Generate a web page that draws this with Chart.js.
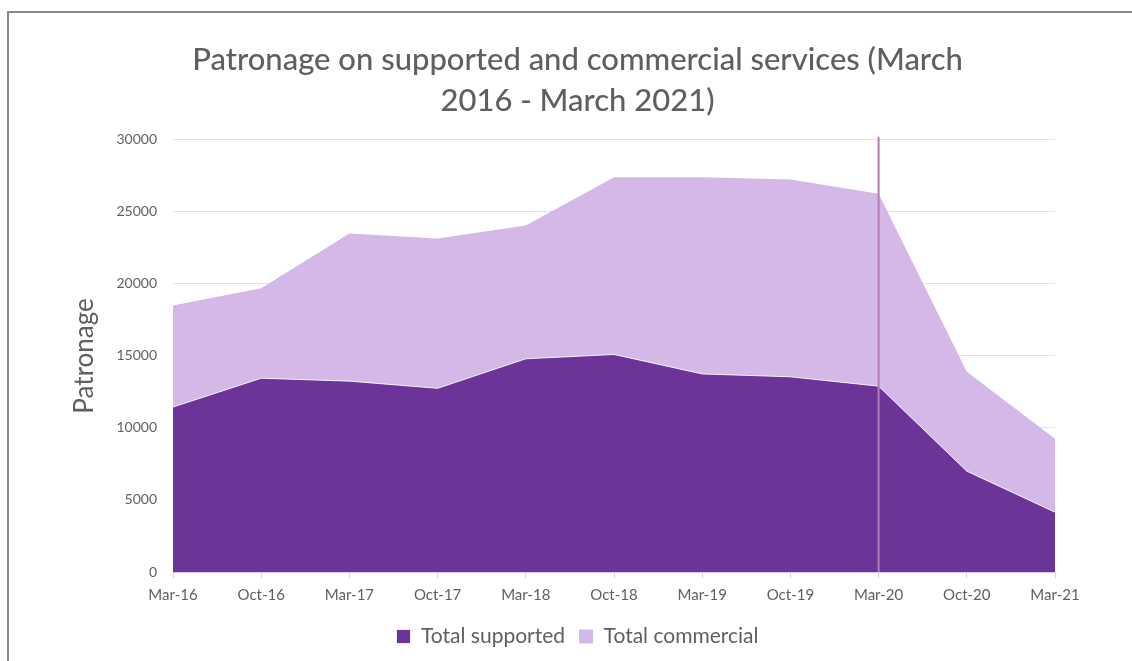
<!DOCTYPE html>
<html>
<head>
<meta charset="utf-8">
<script src="https://cdn.jsdelivr.net/npm/chart.js@4/dist/chart.umd.min.js"></script>
<style>
  html, body { margin: 0; padding: 0; background: #fff; }
  #wrap { position: relative; width: 1132px; height: 661px; overflow: hidden; }
  #frame { position: absolute; left: 7px; top: 11px; width: 1140px; height: 700px;
           border-left: 2px solid #8a8a8a; border-top: 2px solid #8a8a8a; box-sizing: border-box; }
  canvas { position: absolute; left: 0; top: 0; }
</style>
</head>
<body>
<div id="wrap">
  <div id="frame"></div>
  <canvas id="c" width="1132" height="661"></canvas>
</div>
<script>
const categories = ['Mar-16', 'Oct-16', 'Mar-17', 'Oct-17', 'Mar-18', 'Oct-18', 'Mar-19', 'Oct-19', 'Mar-20', 'Oct-20', 'Mar-21'];
const totalSupported = [11450, 13450, 13250, 12750, 14800, 15100, 13750, 13550, 12900, 7000, 4150];
const totalCommercial = [7050, 6250, 10250, 10400, 9250, 12300, 13650, 13700, 13350, 6900, 5100];
const yTicks = [0, 5000, 10000, 15000, 20000, 25000, 30000];
const markerCategory = 'Mar-20';

const FONT = 'Lato, "Open Sans", sans-serif';
const TEXT = '#5f5f5f';

// Vertical marker line at the given category, positioned via the x scale
const markerLine = {
  id: 'markerLine',
  afterDatasetsDraw(chart) {
    const x = chart.scales.x.getPixelForValue(categories.indexOf(markerCategory));
    const { top, bottom } = chart.chartArea;
    const ctx = chart.ctx;
    ctx.save();
    ctx.strokeStyle = '#b17fb3';
    ctx.lineWidth = 2;
    ctx.beginPath();
    ctx.moveTo(x, top - 3);
    ctx.lineTo(x, bottom);
    ctx.stroke();
    ctx.restore();
  }
};

new Chart(document.getElementById('c'), {
  type: 'line',
  data: {
    labels: categories,
    datasets: [
      {
        label: 'Total supported',
        data: totalSupported,
        backgroundColor: '#6c3499',
        borderColor: 'rgba(255,255,255,0.85)',
        borderWidth: 1,
        fill: 'origin',
        pointRadius: 0,
        tension: 0
      },
      {
        label: 'Total commercial',
        data: totalCommercial,
        backgroundColor: '#d4b8e8',
        borderColor: '#d4b8e8',
        borderWidth: 0,
        fill: '-1',
        pointRadius: 0,
        tension: 0
      }
    ]
  },
  options: {
    responsive: false,
    animation: false,
    layout: { padding: { left: 100, right: 77, top: 28, bottom: 4 } },
    plugins: {
      title: {
        display: true,
        text: ['Patronage on supported and commercial services (March', '2016 - March 2021)'],
        color: TEXT,
        font: { family: FONT, size: 31, weight: '500', lineHeight: 1.32 },
        padding: { top: 12, bottom: 18 }
      },
      legend: {
        position: 'bottom',
        labels: {
          color: TEXT,
          font: { family: FONT, size: 21 },
          boxWidth: 14,
          boxHeight: 14,
          padding: 14
        }
      },
      tooltip: { enabled: false }
    },
    scales: {
      x: {
        offset: false,
        grid: { drawOnChartArea: false, drawTicks: true, tickLength: 6, color: '#d9d0e0' },
        border: { color: '#d9c8e6', width: 1 },
        ticks: { color: TEXT, font: { family: FONT, size: 15 }, padding: 8, maxRotation: 0 }
      },
      y: {
        stacked: true,
        min: 0,
        max: 30000,
        afterBuildTicks(scale) { scale.ticks = yTicks.map(v => ({ value: v })); },
        afterFit(scale) { scale.width = 73; },
        grid: { color: '#e4e4e4', drawTicks: false, lineWidth: 1 },
        border: { display: false },
        ticks: { color: TEXT, font: { family: FONT, size: 14 }, padding: 16, callback: v => String(v) },
        title: { display: true, text: 'Patronage', color: TEXT, font: { family: FONT, size: 26 }, padding: { top: -31, bottom: 0 } }
      }
    }
  },
  plugins: [markerLine]
});
</script>
</body>
</html>
